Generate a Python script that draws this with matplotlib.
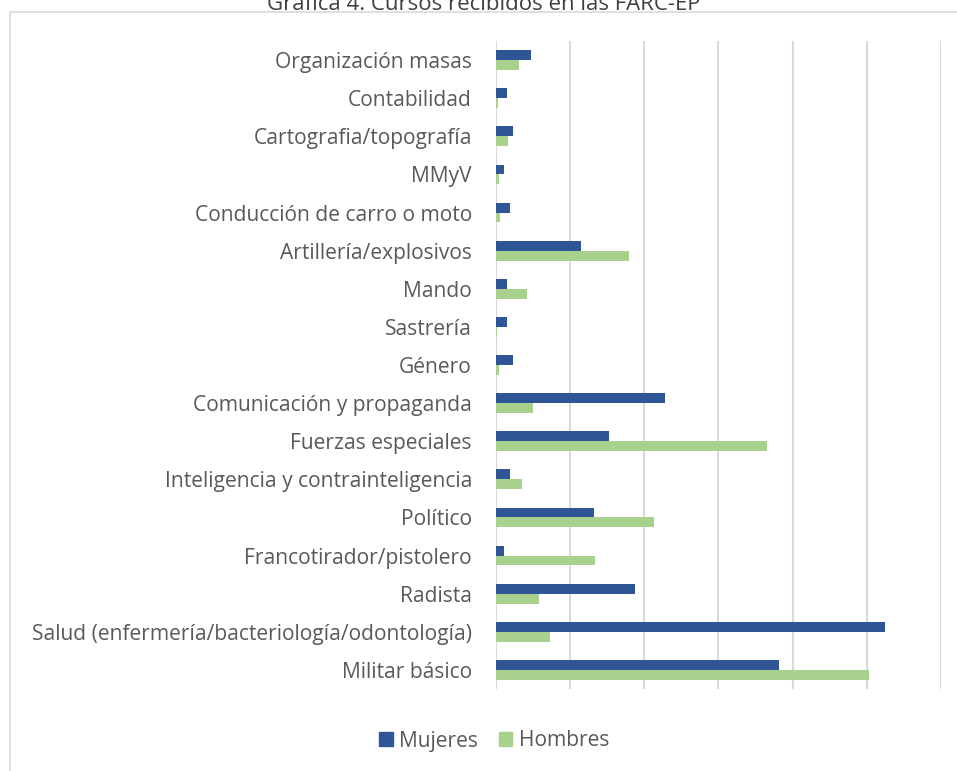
import numpy as np
import matplotlib
matplotlib.use("Agg")
import matplotlib.pyplot as plt
from matplotlib.patches import Rectangle, Patch

# Datos (porcentaje aproximado)
cursos = [
    "Organización masas",
    "Contabilidad",
    "Cartografia/topografía",
    "MMyV",
    "Conducción de carro o moto",
    "Artillería/explosivos",
    "Mando",
    "Sastrería",
    "Género",
    "Comunicación y propaganda",
    "Fuerzas especiales",
    "Inteligencia y contrainteligencia",
    "Político",
    "Francotirador/pistolero",
    "Radista",
    "Salud (enfermería/bacteriología/odontología)",
    "Militar básico",
]
mujeres = [2.4, 0.75, 1.16, 0.55, 0.96, 5.76, 0.75, 0.75, 1.16, 11.44,
           7.62, 0.96, 6.64, 0.57, 9.42, 26.25, 19.07]
hombres = [1.6, 0.2, 0.86, 0.26, 0.3, 8.98, 2.12, 0.08, 0.25, 2.5,
           18.3, 1.76, 10.68, 6.7, 2.91, 3.66, 25.17]

titulo = "Gráfica 4. Cursos recibidos en las FARC-EP"

AZUL = "#2F5597"
VERDE = "#A9D18E"
GRIS_TXT = "#595959"
GRIS_GRID = "#D9D9D9"

plt.rcParams['font.family'] = ['Open Sans', 'DejaVu Sans']

W, H = 957, 771
fig = plt.figure(figsize=(W / 100, H / 100), dpi=100)

# marco del área del gráfico
fig.patches.append(Rectangle((10 / W, -0.1), 1.2, 1 - 12 / H + 0.1,
                             transform=fig.transFigure, fill=False,
                             edgecolor=GRIS_GRID, linewidth=1.2))

ax = fig.add_axes([495.5 / W, (H - 689) / H, (941 - 495.5) / W, (689 - 41) / H])

y = np.arange(len(cursos))
alto = 0.26
ax.barh(y - alto / 2, mujeres, height=alto, color=AZUL, label="Mujeres", zorder=3)
ax.barh(y + alto / 2, hombres, height=alto, color=VERDE, label="Hombres", zorder=3)

ax.set_xlim(0, 30)
ax.set_ylim(len(cursos) - 0.5, -0.5)
ax.set_xticks(np.arange(0, 31, 5))
ax.set_xticklabels([])
ax.tick_params(axis='x', length=0)
ax.grid(axis='x', color=GRIS_GRID, linewidth=1.5, zorder=0)
ax.set_yticks(y)
ax.set_yticklabels(cursos, fontsize=15.1, color=GRIS_TXT)
ax.tick_params(axis='y', length=0, pad=17)
for s in ax.spines.values():
    s.set_visible(False)

fig.text(484 / W, 1 - 10 / H, titulo, ha='center', va='baseline',
         fontsize=16, color="#404040")

handles = [Patch(color=AZUL, label="Mujeres"), Patch(color=VERDE, label="Hombres")]
fig.legend(handles=handles, loc='center', bbox_to_anchor=(494 / W, 30 / H),
           ncol=2, frameon=False, fontsize=15.1, labelcolor=GRIS_TXT,
           handlelength=0.65, handleheight=0.65, handletextpad=0.3,
           columnspacing=1.0)

fig.savefig("out.png", dpi=100)
